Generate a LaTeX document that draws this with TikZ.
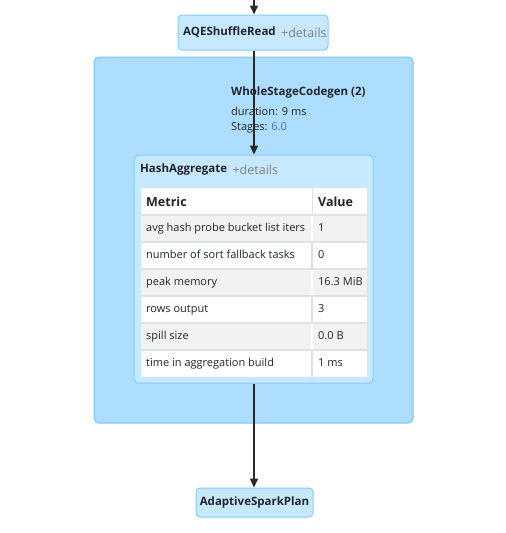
\documentclass[tikz,border=0pt]{standalone}
\usepackage{fontspec}
\setmainfont{Open Sans}
\usetikzlibrary{arrows.meta,calc,positioning}
\definecolor{clusterfill}{RGB}{173,222,255}
\definecolor{clusterborder}{RGB}{122,196,246}
\definecolor{nodefill}{RGB}{199,233,255}
\definecolor{nodeborder}{RGB}{134,204,246}
\definecolor{rowgray}{RGB}{242,242,242}
\definecolor{linegray}{RGB}{222,226,230}
\definecolor{textdark}{RGB}{33,37,41}
\definecolor{detailgray}{RGB}{128,128,128}
\definecolor{stageblue}{RGB}{81,112,173}
\definecolor{edgegray}{RGB}{40,40,40}
\tikzset{
  opbox/.style={draw=nodeborder, fill=nodefill, rounded corners=4pt, line width=1pt, inner sep=0pt},
  flow/.style={draw=edgegray, line width=1.5pt, -{Triangle[length=9pt,width=8pt]}},
  titletext/.style={font=\fontsize{11.5}{13}\selectfont\bfseries, text=textdark, inner sep=0pt},
  detailtext/.style={font=\fontsize{12.5}{14}\selectfont, text=detailgray, inner sep=0pt},
  celltext/.style={anchor=west, font=\fontsize{11}{13}\selectfont, text=textdark, inner sep=0pt},
  headtext/.style={anchor=west, font=\fontsize{12.5}{14}\selectfont\bfseries, text=textdark, inner sep=0pt},
}
\begin{document}
\begin{tikzpicture}[x=1pt,y=-1pt]
\useasboundingbox[fill=white] (0,0) rectangle (506,533);
% cluster
\node[draw=clusterborder, fill=clusterfill, rounded corners=5pt, line width=1pt, minimum width=319pt, minimum height=366pt, inner sep=0pt] (wsc) at (253.5,240) {};
\node[titletext, anchor=west] (wsctitle) at (231,93) {WholeStageCodegen (2)};
\node[celltext] (wscdur) at (231,111) {duration: 9 ms};
\node[celltext] (wscstage) at (231,128) {Stages: \textcolor{stageblue}{6.0}};
% operators
\node[opbox, minimum width=150pt, minimum height=35pt] (aqe) at (253,32.5) {};
\node[titletext, anchor=west] (aqetitle) at (183,32.5) {AQEShuffleRead};
\node[detailtext, right=5pt of aqetitle] {+details};
\node[opbox, minimum width=239pt, minimum height=228pt] (hashagg) at (253.5,269) {};
\node[titletext, anchor=west] (hashtitle) at (140,170) {HashAggregate};
\node[detailtext, right=5pt of hashtitle] {+details};
\node[opbox, minimum width=117pt, minimum height=29pt] (asp) at (254.5,502.5) {};
\node[titletext] at (asp) {AdaptiveSparkPlan};
% metrics table
\fill[white] (141,188) rectangle (367,215);
\draw[linegray, line width=1pt] (312,188) -- (312,215);
\node[headtext] at (146,202) {Metric};
\node[headtext] at (318,202) {Value};
\foreach \name/\val [count=\i] in {avg hash probe bucket list iters/1, number of sort fallback tasks/0, peak memory/16.3 MiB, rows output/3, spill size/0.0 B, time in aggregation build/1 ms}{
  \pgfmathsetmacro{\rowtop}{215+(\i-1)*27}
  \ifodd\i \def\rowfill{rowgray}\def\divcol{white}\else\def\rowfill{white}\def\divcol{linegray}\fi
  \fill[\rowfill] (141,\rowtop) rectangle (367,\rowtop+27);
  \draw[\divcol, line width=1.5pt] (312,\rowtop) -- (312,\rowtop+27);
  \draw[linegray, line width=1.5pt] (141,\rowtop) -- (367,\rowtop);
  \node[celltext] at (146,\rowtop+14) {\strut\name};
  \node[celltext] at (318,\rowtop+14) {\strut\val};
}
% edges
\coordinate (src) at (254,0);
\draw[flow] (src) -- (aqe.north -| src);
\draw[flow] (aqe.south -| src) -- (hashagg.north -| src);
\draw[flow] (hashagg.south -| src) -- (asp.north -| src);
\end{tikzpicture}
\end{document}
